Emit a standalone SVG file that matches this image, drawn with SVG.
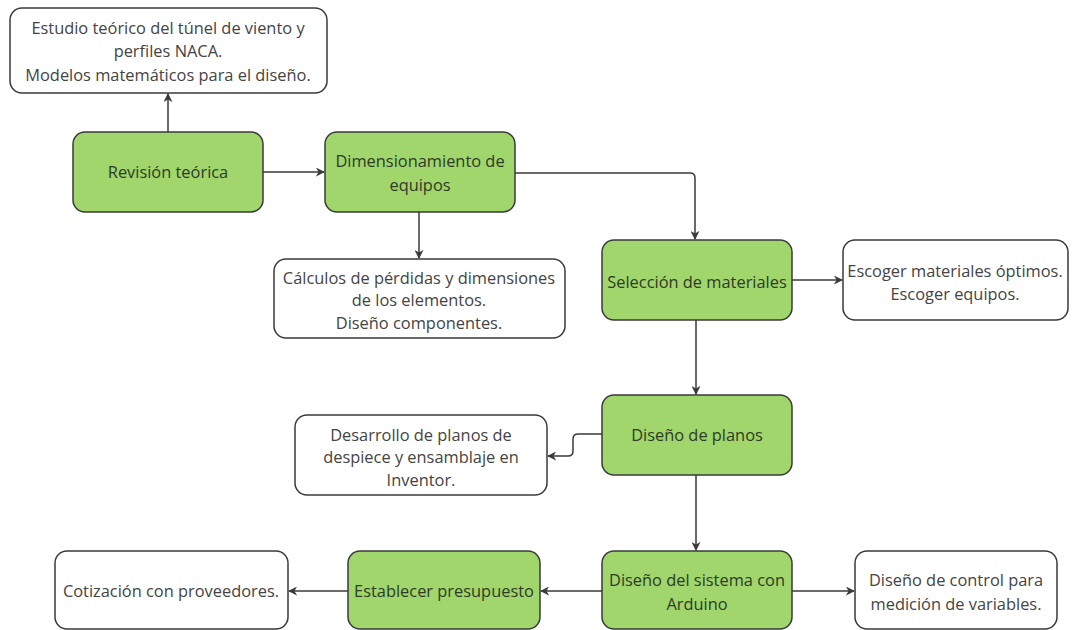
<svg xmlns="http://www.w3.org/2000/svg" width="1073" height="630" viewBox="0 0 1073 630">
<style>
.g{fill:#a0d66b;stroke:#3a3a3a;stroke-width:1.5}
.w{fill:#fff;stroke:#3a3a3a;stroke-width:1.5}
text{font-family:"Open Sans","Noto Sans",sans-serif;font-size:16.4px;fill:#444;text-anchor:middle}
.gt{fill:#2f3a28}
.c{fill:none;stroke:#3a3a3a;stroke-width:1.5;marker-end:url(#a)}
</style>
<defs>
<marker id="a" viewBox="0 0 10 10" refX="9" refY="5" markerWidth="9" markerHeight="9" markerUnits="userSpaceOnUse" orient="auto">
<path d="M0,0 L10,5 L0,10 L3,5 Z" fill="#3a3a3a"/>
</marker>
</defs>
<rect width="1073" height="630" fill="#fff"/>
<g id="connectors">
<path class="c" d="M168,132 V94"/>
<path class="c" d="M263,172 H324"/>
<path class="c" d="M515,173 H690 Q695,173 695,178 V239"/>
<path class="c" d="M419,212 V258"/>
<path class="c" d="M792,280 H842"/>
<path class="c" d="M696,320 V394"/>
<path class="c" d="M602,434 H578 Q573,434 573,439 V451 Q573,456 568,456 H548"/>
<path class="c" d="M696,475 V550"/>
<path class="c" d="M602,591 H541"/>
<path class="c" d="M348,591 H289"/>
<path class="c" d="M792,591 H854"/>
</g>
<g id="n1"><rect class="w" x="10" y="8" width="317" height="85" rx="12"/>
<text x="168" y="34">Estudio teórico del túnel de viento y</text>
<text x="168" y="57">perfiles NACA.</text>
<text x="168" y="81">Modelos matemáticos para el diseño.</text></g>
<g id="n2"><rect class="g" x="73" y="132" width="190" height="80" rx="12"/>
<text class="gt" x="168" y="178">Revisión teórica</text></g>
<g id="n3"><rect class="g" x="325" y="132" width="190" height="80" rx="12"/>
<text class="gt" x="420" y="167">Dimensionamiento de</text>
<text class="gt" x="420" y="191">equipos</text></g>
<g id="n4"><rect class="w" x="274" y="259" width="291" height="79" rx="12"/>
<text x="419" y="284">Cálculos de pérdidas y dimensiones</text>
<text x="419" y="306">de los elementos.</text>
<text x="419" y="329">Diseño componentes.</text></g>
<g id="n5"><rect class="g" x="602" y="240" width="190" height="80" rx="12"/>
<text class="gt" x="697" y="288">Selección de materiales</text></g>
<g id="n6"><rect class="w" x="843" y="240" width="225" height="80" rx="12"/>
<text x="955" y="277">Escoger materiales óptimos.</text>
<text x="955" y="300">Escoger equipos.</text></g>
<g id="n7"><rect class="g" x="602" y="395" width="190" height="80" rx="12"/>
<text class="gt" x="697" y="441">Diseño de planos</text></g>
<g id="n8"><rect class="w" x="295" y="415" width="252" height="80" rx="12"/>
<text x="421" y="441">Desarrollo de planos de</text>
<text x="421" y="463">despiece y ensamblaje en</text>
<text x="421" y="486">Inventor.</text></g>
<g id="n9"><rect class="g" x="602" y="551" width="190" height="78" rx="12"/>
<text class="gt" x="697" y="586">Diseño del sistema con</text>
<text class="gt" x="697" y="610">Arduino</text></g>
<g id="n10"><rect class="w" x="855" y="551" width="202" height="78" rx="12"/>
<text x="956" y="586">Diseño de control para</text>
<text x="956" y="610">medición de variables.</text></g>
<g id="n11"><rect class="g" x="348" y="551" width="192" height="78" rx="12"/>
<text class="gt" x="444" y="597">Establecer presupuesto</text></g>
<g id="n12"><rect class="w" x="55" y="551" width="233" height="78" rx="12"/>
<text x="171" y="597">Cotización con proveedores.</text></g>
</svg>
